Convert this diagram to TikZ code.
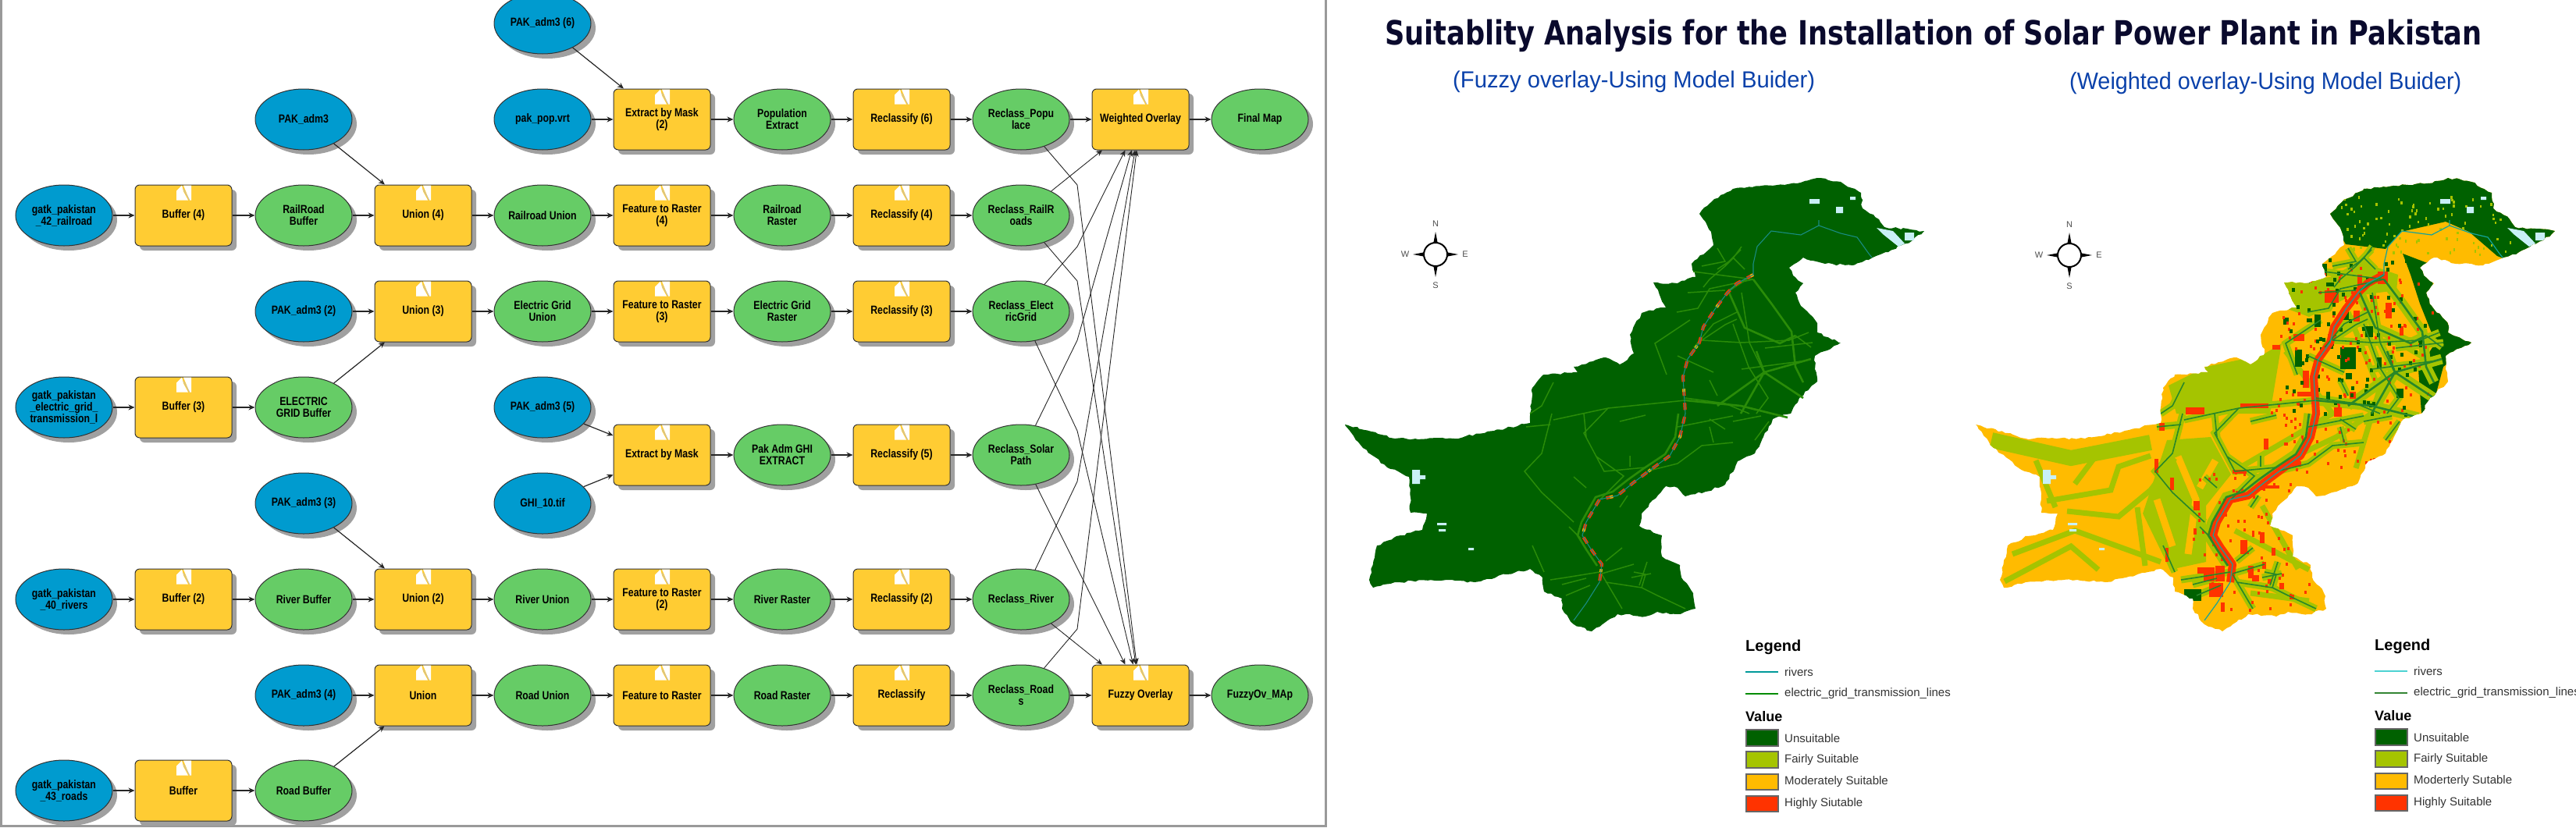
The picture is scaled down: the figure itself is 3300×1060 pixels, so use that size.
\documentclass[tikz,border=0pt]{standalone}
\usepackage{fontspec}
\usepackage{graphicx}
\setmainfont{Liberation Sans}
\newfontfamily\modelfont{Liberation Sans}[FakeStretch=0.82]
\newfontfamily\titlefont{DejaVu Sans}
\usetikzlibrary{shapes.geometric,shadows,arrows.meta,decorations.pathmorphing}
\definecolor{datablue}{RGB}{0,155,207}
\definecolor{resultgreen}{RGB}{102,204,102}
\definecolor{toolyellow}{RGB}{255,204,51}
\definecolor{shadowgray}{RGB}{160,160,160}
\definecolor{unsuit}{RGB}{0,97,0}
\definecolor{fairly}{RGB}{165,196,0}
\definecolor{moder}{RGB}{255,187,0}
\definecolor{highly}{RGB}{255,51,0}
\definecolor{water}{RGB}{200,240,246}
\definecolor{griddark}{RGB}{40,135,40}
\definecolor{gridlight}{RGB}{42,140,8}
\definecolor{rivercol}{RGB}{25,140,130}
\definecolor{titlecol}{RGB}{10,10,45}
\definecolor{subcol}{RGB}{10,65,170}
\tikzset{
    modelnode/.style={minimum width=124pt,minimum height=78pt,inner sep=0pt,align=center,
        draw=black!80,line width=1pt,font=\modelfont\fontsize{15}{15}\selectfont\bfseries,
        drop shadow={fill=shadowgray,opacity=1,shadow xshift=6pt,shadow yshift=-6pt}},
    datanode/.style={modelnode,ellipse,fill=datablue},
    outnode/.style={modelnode,ellipse,fill=resultgreen},
    toolnode/.style={modelnode,rectangle,rounded corners=6pt,fill=toolyellow},
    link/.style={draw=black!85,line width=1.2pt,-{Stealth[length=8pt,width=7pt]}},
    thinlink/.style={link,line width=.9pt},
    rough/.style={decorate,decoration={random steps,segment length=5pt,amplitude=1.4pt}},
    legendhead/.style={anchor=base west,inner sep=0pt,font=\bfseries},
    legendtext/.style={anchor=west,inner sep=0pt,text=black!80,font=\fontsize{15}{15}\selectfont},
    swatch/.style={draw=black!60,line width=1.6pt},
    compasstext/.style={inner sep=0pt,text=black!70,font=\fontsize{11}{11}\selectfont}
}
% outline of the country, the second map uses it shifted
\newcommand{\pakborder}{(2328,228) -- (2358,233) -- (2384,247) -- (2386,267) -- (2407,281) -- (2414,291)
    -- (2465,296) -- (2450,308) -- (2419,323) -- (2399,330) -- (2373,340) -- (2338,338) -- (2310,330)
    -- (2292,343) -- (2297,353) -- (2310,363) -- (2300,375) -- (2307,392) -- (2328,414) -- (2328,426)
    -- (2358,439) -- (2325,456) -- (2325,473) -- (2328,489) -- (2305,510) -- (2294,530) -- (2271,537)
    -- (2248,581) -- (2226,591) -- (2210,621) -- (2185,630) -- (2159,636) -- (2149,625) -- (2134,623)
    -- (2103,658) -- (2100,674) -- (2129,686) -- (2129,713) -- (2152,724) -- (2154,740) -- (2169,760)
    -- (2172,780) -- (2149,787) -- (2123,784) -- (2108,790) -- (2072,787) -- (2057,797) -- (2039,809)
    -- (2016,800) -- (2001,780) -- (2001,767) -- (1978,758) -- (1976,740) -- (1960,729) -- (1930,736)
    -- (1889,746) -- (1853,743) -- (1787,746) -- (1759,753) -- (1754,743) -- (1764,699) -- (1789,687)
    -- (1822,679) -- (1828,658) -- (1807,657) -- (1805,611) -- (1777,599) -- (1746,574) -- (1723,544)
    -- (1787,562) -- (1863,562) -- (1914,552) -- (1960,542) -- (1960,530) -- (1963,497) -- (1978,480)
    -- (2021,477) -- (2016,470) -- (2057,458) -- (2075,467) -- (2093,453) -- (2088,429) -- (2103,401)
    -- (2134,394) -- (2121,368) -- (2118,362) -- (2149,363) -- (2172,355) -- (2167,338) -- (2195,314)
    -- (2192,297) -- (2177,274) -- (2192,259) -- (2220,242) -- (2277,237) -- (2302,235) -- cycle}
\newcommand{\pakriver}{(2330,282) -- (2330,289) -- (2358,299) -- (2379,304) -- (2394,325) -- (2398,330)
    (2330,289) -- (2307,301) -- (2269,296) -- (2251,316) -- (2246,338) -- (2246,352) -- (2225,363)
    -- (2213,375) -- (2197,396) -- (2182,419) -- (2177,439) -- (2162,460) -- (2156,483) -- (2159,530)
    -- (2152,560) -- (2139,584) -- (2113,603) -- (2093,618) -- (2072,635) -- (2049,640) -- (2032,669)
    -- (2027,686) -- (2037,702) -- (2052,723) -- (2049,746) -- (2032,773) -- (2016,795)}
\newcommand{\pakindus}{(2246,352) -- (2225,363) -- (2213,375) -- (2197,396) -- (2182,419) -- (2177,439)
    -- (2162,460) -- (2156,483) -- (2159,530) -- (2152,560) -- (2139,584) -- (2113,603) -- (2093,618)
    -- (2072,635) -- (2049,640) -- (2032,669) -- (2027,686) -- (2037,702) -- (2052,723) -- (2049,746)}
\newcommand{\pakgridheavy}{(2246,358) -- (2270,390) -- (2295,425) -- (2300,470) -- (2310,490)
    (2246,352) -- (2215,372) (2215,375) -- (2235,420) -- (2280,440) -- (2300,430)
    (2150,530) -- (2146,560) -- (2133,582) -- (2106,600) -- (2085,615) -- (2066,630) -- (2044,637)
    -- (2026,669) -- (2021,686) -- (2032,704) -- (2046,725)
    (2159,513) -- (2230,520) -- (2290,535) (2260,477) -- (2320,460) (2260,477) -- (2310,510)
    (2260,477) -- (2230,530) (2260,477) -- (2250,450) (2260,477) -- (2200,520)}
\newcommand{\pakgrid}{(2246,358) -- (2190,370) -- (2175,395) -- (2148,400)
    (2230,320) -- (2215,335) -- (2200,345) (2220,330) -- (2235,345)
    (2170,445) -- (2195,415) -- (2225,400) (2135,480) -- (2120,440) -- (2165,410)
    (2220,415) -- (2240,470) -- (2265,510) -- (2250,530) (2300,430) -- (2320,445)
    (2159,513) -- (2060,523) -- (1990,538) (1988,530) -- (1975,581) -- (1953,604) -- (1975,631) -- (2016,669)
    (2060,523) -- (2029,555) -- (2055,604) -- (2108,599) (1990,490) -- (1975,520) -- (1960,530)
    (2049,733) -- (2006,740) -- (1986,743) (2052,736) -- (2078,780)
    (2057,746) -- (2103,753) -- (2123,763) -- (2159,780) (2052,735) -- (2093,723)
    (2057,719) -- (2078,702) (1963,699) -- (1978,733) (2025,690) -- (2010,675)
    (2113,603) -- (2149,594) -- (2180,571) -- (2220,567) (2195,567) -- (2190,547)
    (2248,564) -- (2266,540) (2050,640) -- (2080,610) -- (2045,585)
    (2100,750) -- (2110,720) (2075,650) -- (2085,635) (2090,740) -- (2115,735)
    (2200,318) -- (2210,335) -- (2180,341) (2231,316) -- (2220,331) -- (2210,341) -- (2190,358) -- (2182,368)
    (2169,348) -- (2246,358) (2162,375) -- (2210,372) (2231,375) -- (2241,439) -- (2261,480)
    (2180,436) -- (2231,439) -- (2292,436) -- (2317,426) (2180,436) -- (2210,416) -- (2225,409)
    (2149,456) -- (2195,477) (2261,446) -- (2322,439) (2231,473) -- (2307,463)
    (2159,510) -- (2210,517) -- (2241,530) (2190,487) -- (2200,507)
    (2149,547) -- (2220,533) (2190,537) -- (2210,550) (2220,540) -- (2256,533) (2075,540) -- (2108,532)
    (1955,547) -- (1986,544) (2016,611) -- (2032,625) (2088,584) -- (2088,598) (2029,530) -- (2032,560)
    (2001,749) -- (2032,741) (2006,763) -- (2037,750) (2093,733) -- (2108,736) -- (2103,753)}
\newcommand{\pakwater}{
    \fill[water] (2318,255) rectangle ++(13,6) (2352,265) rectangle ++(9,8) (2370,252) rectangle ++(7,4)
        (2404,292) -- (2425,296) -- (2440,312) -- (2432,316) -- (2412,300) -- cycle
        (2440,298) rectangle ++(12,10) (1809,602) rectangle ++(10,18) (1819,609) rectangle ++(7,5)
        (1841,670) rectangle ++(12,3) (1843,678) rectangle ++(9,3) (1881,702) rectangle ++(7,3);}
\begin{document}
\begin{tikzpicture}[x=1pt,y=-1pt]
    \useasboundingbox (0,0) rectangle (3300,1060);
    \clip (0,0) rectangle (3300,1060);
    \draw[black!40,line width=3pt] (1.5,0) -- (1.5,1058) -- (1698,1058) -- (1698,0);
    % the model
    \node[datanode] (adm6) at (695,30) {PAK\_adm3 (6)};
    \node[datanode] (adm1) at (389,153) {PAK\_adm3};
    \node[datanode] (pop) at (695,153) {pak\_pop.vrt};
    \node[toolnode] (maskb) at (848,153) {Extract by Mask\\(2)};
    \node[outnode] (popext) at (1002,153) {Population\\Extract};
    \node[toolnode] (reclf) at (1155,153) {Reclassify (6)};
    \node[outnode] (recpop) at (1308,153) {Reclass\_Popu\\lace};
    \node[toolnode] (wov) at (1461,153) {Weighted Overlay};
    \node[outnode] (finalmap) at (1614,153) {Final Map};
    \node[datanode] (railsrc) at (82,276) {gatk\_pakistan\\\_42\_railroad};
    \node[toolnode] (bufd) at (235,276) {Buffer (4)};
    \node[outnode] (railbuf) at (389,276) {RailRoad\\Buffer};
    \node[toolnode] (uniond) at (542,276) {Union (4)};
    \node[outnode] (railunion) at (695,276) {Railroad Union};
    \node[toolnode] (ftrd) at (848,276) {Feature to Raster\\(4)};
    \node[outnode] (railras) at (1002,276) {Railroad\\Raster};
    \node[toolnode] (recld) at (1155,276) {Reclassify (4)};
    \node[outnode] (recrail) at (1308,276) {Reclass\_RailR\\oads};
    \node[datanode] (adm2) at (389,399) {PAK\_adm3 (2)};
    \node[toolnode] (unionc) at (542,399) {Union (3)};
    \node[outnode] (gridunion) at (695,399) {Electric Grid\\Union};
    \node[toolnode] (ftrc) at (848,399) {Feature to Raster\\(3)};
    \node[outnode] (gridras) at (1002,399) {Electric Grid\\Raster};
    \node[toolnode] (reclc) at (1155,399) {Reclassify (3)};
    \node[outnode] (recgrid) at (1308,399) {Reclass\_Elect\\ricGrid};
    \node[datanode] (gridsrc) at (82,522) {gatk\_pakistan\\\_electric\_grid\_\\transmission\_l};
    \node[toolnode] (bufc) at (235,522) {Buffer (3)};
    \node[outnode] (gridbuf) at (389,522) {ELECTRIC\\GRID Buffer};
    \node[datanode] (adm5) at (695,522) {PAK\_adm3 (5)};
    \node[toolnode] (maska) at (848,583) {Extract by Mask};
    \node[outnode] (ghiext) at (1002,583) {Pak Adm GHI\\EXTRACT};
    \node[toolnode] (recle) at (1155,583) {Reclassify (5)};
    \node[outnode] (recsolar) at (1308,583) {Reclass\_Solar\\Path};
    \node[datanode] (adm3) at (389,645) {PAK\_adm3 (3)};
    \node[datanode] (ghi) at (695,645) {GHI\_10.tif};
    \node[datanode] (riversrc) at (82,768) {gatk\_pakistan\\\_40\_rivers};
    \node[toolnode] (bufb) at (235,768) {Buffer (2)};
    \node[outnode] (riverbuf) at (389,768) {River Buffer};
    \node[toolnode] (unionb) at (542,768) {Union (2)};
    \node[outnode] (riverunion) at (695,768) {River Union};
    \node[toolnode] (ftrb) at (848,768) {Feature to Raster\\(2)};
    \node[outnode] (riverras) at (1002,768) {River Raster};
    \node[toolnode] (reclb) at (1155,768) {Reclassify (2)};
    \node[outnode] (recriver) at (1308,768) {Reclass\_River};
    \node[datanode] (adm4) at (389,891) {PAK\_adm3 (4)};
    \node[toolnode] (uniona) at (542,891) {Union};
    \node[outnode] (roadunion) at (695,891) {Road Union};
    \node[toolnode] (ftra) at (848,891) {Feature to Raster};
    \node[outnode] (roadras) at (1002,891) {Road Raster};
    \node[toolnode] (recla) at (1155,891) {Reclassify};
    \node[outnode] (recroad) at (1308,891) {Reclass\_Road\\s};
    \node[toolnode] (fov) at (1461,891) {Fuzzy Overlay};
    \node[outnode] (fuzzymap) at (1614,891) {FuzzyOv\_MAp};
    \node[datanode] (roadsrc) at (82,1013) {gatk\_pakistan\\\_43\_roads};
    \node[toolnode] (bufa) at (235,1013) {Buffer};
    \node[outnode] (roadbuf) at (389,1013) {Road Buffer};
    % the small white mark on every tool
    \foreach \t in {maskb,reclf,wov,bufd,uniond,ftrd,recld,unionc,ftrc,reclc,bufc,maska,recle,bufb,unionb,
        ftrb,reclb,uniona,ftra,recla,fov,bufa}{
        \begin{scope}[shift={(\t.north)}]
            \fill[white] (-9,20) -- (-9,8) -- (-2,1) -- (0,9) -- (6,20) -- cycle;
            \fill[white] (0,1) -- (10,1) -- (10,20) -- (8,20) -- cycle;
            \draw[black!25,line width=.8pt] (0,6) -- (8,20);
        \end{scope}
    }
    % straight links of the rows
    \foreach \a/\b in {adm6/maskb,pop/maskb,maskb/popext,popext/reclf,reclf/recpop,recpop/wov,wov/finalmap,
        railsrc/bufd,bufd/railbuf,railbuf/uniond,adm1/uniond,uniond/railunion,railunion/ftrd,ftrd/railras,
        railras/recld,recld/recrail,adm2/unionc,gridbuf/unionc,unionc/gridunion,gridunion/ftrc,ftrc/gridras,
        gridras/reclc,reclc/recgrid,gridsrc/bufc,bufc/gridbuf,adm5/maska,ghi/maska,maska/ghiext,ghiext/recle,
        recle/recsolar,riversrc/bufb,bufb/riverbuf,riverbuf/unionb,adm3/unionb,unionb/riverunion,
        riverunion/ftrb,ftrb/riverras,riverras/reclb,reclb/recriver,adm4/uniona,roadbuf/uniona,
        uniona/roadunion,roadunion/ftra,ftra/roadras,roadras/recla,recla/recroad,recroad/fov,fov/fuzzymap,
        roadsrc/bufa,bufa/roadbuf}
        \draw[link] (\a) -- (\b);
    % links into the two overlays
    \draw[thinlink] (recrail) -- (wov);
    \draw[thinlink] (recgrid) -- (1380,316) -- (wov);
    \draw[thinlink] (recsolar) -- (1380,436) -- (wov);
    \draw[thinlink] (recriver) -- (1380,617) -- (wov);
    \draw[thinlink] (recroad) -- (1380,806) -- (wov);
    \draw[thinlink] (recpop) -- (1380,237) -- (fov);
    \draw[thinlink] (recrail) -- (1380,360) -- (fov);
    \draw[thinlink] (recgrid) -- (1380,552) -- (fov);
    \draw[thinlink] (recsolar) -- (fov);
    \draw[thinlink] (recriver) -- (fov);
    % headings
    \node[anchor=base west,inner sep=0pt,text=titlecol,font=\titlefont\bfseries] (title) at (1774,57.5)
        {\resizebox{1405pt}{32.5pt}{Suitablity Analysis for the Installation of Solar Power Plant in Pakistan}};
    \node[anchor=base west,inner sep=0pt,text=subcol] (subfuzzy) at (1861,112.6)
        {\resizebox{464pt}{21.6pt}{(Fuzzy overlay-Using Model Buider)}};
    \node[anchor=base west,inner sep=0pt,text=subcol] (subweight) at (2651,114.3)
        {\resizebox{502pt}{22pt}{(Weighted overlay-Using Model Buider)}};
    % fuzzy map
    \pgfmathsetseed{3}
    \fill[unsuit,rough] \pakborder;
    \pakwater
    \draw[gridlight,line width=1.5pt] \pakgrid;
    \draw[gridlight,line width=2.6pt] \pakgridheavy;
    \draw[highly,line width=4pt,dash pattern=on 9pt off 9pt] \pakindus;
    \draw[moder,line width=3.5pt,dash pattern=on 4pt off 56pt] \pakindus;
    \draw[rivercol,line width=1.1pt] \pakriver;
    % weighted map
    \begin{scope}[shift={(808,0)}]
        \begin{scope}
            \clip[rough] \pakborder;
            \fill[moder] (1700,200) rectangle (2480,820);
            \fill[unsuit] (2172,270) -- (2197,313) -- (2248,319) -- (2268,297) -- (2325,284) -- (2355,297)
                -- (2391,328) -- (2420,340) -- (2500,300) -- (2420,200) -- (2172,200) -- cycle;
            \fill[unsuit] (2270,325) -- (2304,338) -- (2312,382) -- (2330,419) -- (2360,439) -- (2322,470)
                -- (2312,507) -- (2294,530) -- (2290,473) -- (2312,439) -- (2292,389) -- (2280,352) -- cycle;
            \fill[fairly] (2177,355) -- (2215,335) -- (2264,352) -- (2262,372) -- (2202,380) -- (2150,406)
                -- (2120,395) -- (2110,362) -- cycle;
            \fill[fairly] (2018,470) -- (2090,455) -- (2115,440) -- (2100,530) -- (1980,530) -- (1970,494) -- cycle;
            \fill[fairly] (1968,564) -- (2024,560) -- (2050,608) -- (2018,648) -- (2018,720) -- (1972,730) -- (1937,658) -- cycle;
            \draw[moder,line width=9pt] (1982,585) -- (2005,640) -- (1995,710) (1955,640) -- (1975,700)
                (2030,590) -- (2010,625);
            \draw[fairly,line width=20pt] (1743,564) -- (1845,587) -- (1947,567);
            \draw[fairly,line width=7pt] (1814,642) -- (1896,628) -- (1906,598) -- (1947,584)
                (1840,655) -- (1906,662) -- (1947,628) -- (1978,587)
                (1770,710) -- (1850,680) -- (1960,720) (1760,745) -- (1845,700) -- (1880,730)
                (1800,590) -- (1825,650) (1880,580) -- (1850,620) (1930,650) -- (1940,725)
                (2100,600) -- (2185,560) -- (2230,530) (2090,648) -- (2136,729)
                (2055,680) -- (2150,730) (2075,760) -- (2150,770)
                (2200,400) -- (2240,500) -- (2210,600) (2120,450) -- (2180,530) -- (2060,600)
                (2250,430) -- (2300,460);
            \draw[fairly,line width=9pt] \pakgrid;
            \draw[fairly,line width=13pt] \pakgridheavy;
            % red patches
            \foreach \x/\y/\w/\h in {2170/372/18/16,2212/352/6/26,2238/348/13/16,2130/428/14/9,2142/475/8/22,
                2103/442/10/6,2207/398/8/14,2248/388/8/20,2266/418/5/12,2135/502/20/6,2062/517/36/6,
                1992/522/24/9,1958/542/7/10,1952/588/5/18,1972/612/5/16,2002/642/8/12,
                2082/622/30/4,2122/592/18/6,2052/602/18/5,2092/562/6/14,2062/692/9/18,2087/682/6/14,
                2007/727/22/8,2022/747/18/18,2077/737/9/8,2097/742/5/6,2112/747/6/8,2037/772/5/12,
                2102/702/5/10,2002/677/4/8,1966/702/4/18,2182/522/10/12,2202/502/8/9,
                2030/725/12/20,2015/735/14/10,2072/725/7/16,2090/720/5/9,2125/762/6/6}
                \fill[highly] (\x,\y) rectangle ++(\w,\h);
            % dark patches
            \foreach \x/\y/\w/\h in {2190/445/20/28,2132/448/9/22,2157/403/8/16,2117/407/7/9,2192/398/9/12,
                2172/362/10/5,2222/418/10/14,2237/458/6/14,2262/498/9/12,2164/338/9/16,2281/532/10/8,
                2172/502/5/10,2197/478/8/8}
                \fill[unsuit] (\x,\y) rectangle ++(\w,\h);
            % speckles
            \pgfmathsetseed{7}
            \foreach \i in {1,...,90}{
                \pgfmathsetmacro\rx{2190+rnd*220}
                \pgfmathsetmacro\ry{250+rnd*75}
                \fill[fairly] (\rx,\ry) rectangle ++(2.5,3.5);
            }
            \foreach \i in {1,...,170}{
                \pgfmathsetmacro\rx{2100+rnd*210}
                \pgfmathsetmacro\ry{340+rnd*260}
                \fill[highly] (\rx,\ry) rectangle ++(3,4);
            }
            \foreach \i in {1,...,90}{
                \pgfmathsetmacro\rx{2000+rnd*150}
                \pgfmathsetmacro\ry{600+rnd*180}
                \fill[highly] (\rx,\ry) rectangle ++(3,4);
            }
            \foreach \i in {1,...,90}{
                \pgfmathsetmacro\rx{2120+rnd*180}
                \pgfmathsetmacro\ry{330+rnd*200}
                \fill[unsuit] (\rx,\ry) rectangle ++(4,5);
            }
            \draw[highly,line width=10pt,line join=round] \pakindus;
            \fill[unsuit] (1990,755) rectangle (2012,770);
            \pakwater
            \draw[griddark,line width=1.6pt] \pakgrid;
            \draw[griddark,line width=2.6pt] \pakgridheavy;
            \draw[rivercol!80!cyan,line width=1.2pt] \pakriver;
        \end{scope}
    \end{scope}
    % north arrows
    \foreach \cx/\cy/\k in {1839/326/a,2651/327/b}{
        \begin{scope}[shift={(\cx,\cy)}]
            \fill[black] (-3,-13) -- (0,-29) -- (3,-13) -- cycle (-3,13) -- (0,29) -- (3,13) -- cycle
                (-13,-3) -- (-29,0) -- (-13,3) -- cycle (13,-3) -- (29,0) -- (13,3) -- cycle;
            \draw[black,fill=white,line width=2pt] (0,0) circle (15);
            \node[compasstext] (north\k) at (0,-39) {N};
            \node[compasstext] (south\k) at (0,40) {S};
            \node[compasstext] (west\k) at (-39,0) {W};
            \node[compasstext] (east\k) at (38,0) {E};
        \end{scope}
    }
    % legends
    \foreach \lx/\ly/\k/\rc/\gc/\nm/\nh in {0/0/a/{teal!80!cyan}/{green!55!black}/Moderately Suitable/Highly Siutable,
        806/-1/b/{teal!50!cyan!70}/{green!40!black!80}/Moderterly Sutable/Highly Suitable}{
        \begin{scope}[shift={(\lx,\ly)}]
            \node[legendhead,font=\fontsize{20}{20}\selectfont\bfseries] (leg\k) at (2236,834) {Legend};
            \draw[\rc,line width=1.8pt] (2236,861) -- (2278,861);
            \node[legendtext] (riv\k) at (2286,861) {rivers};
            \draw[\gc,line width=1.8pt] (2236,889) -- (2278,889);
            \node[legendtext] (ele\k) at (2286,889) {electric\_grid\_transmission\_lines};
            \node[legendhead,font=\fontsize{18}{18}\selectfont\bfseries] (val\k) at (2236,924) {Value};
            \draw[swatch,fill=unsuit] (2237,935) rectangle (2278,956);
            \node[legendtext] (vun\k) at (2286,946) {Unsuitable};
            \draw[swatch,fill=fairly] (2237,963) rectangle (2278,984);
            \node[legendtext] (vfa\k) at (2286,974) {Fairly Suitable};
            \draw[swatch,fill=moder] (2237,992) rectangle (2278,1012);
            \node[legendtext] (vmo\k) at (2286,1002) {\nm};
            \draw[swatch,fill=highly] (2237,1020) rectangle (2278,1040);
            \node[legendtext] (vhi\k) at (2286,1030) {\nh};
        \end{scope}
    }
\end{tikzpicture}
\end{document}
